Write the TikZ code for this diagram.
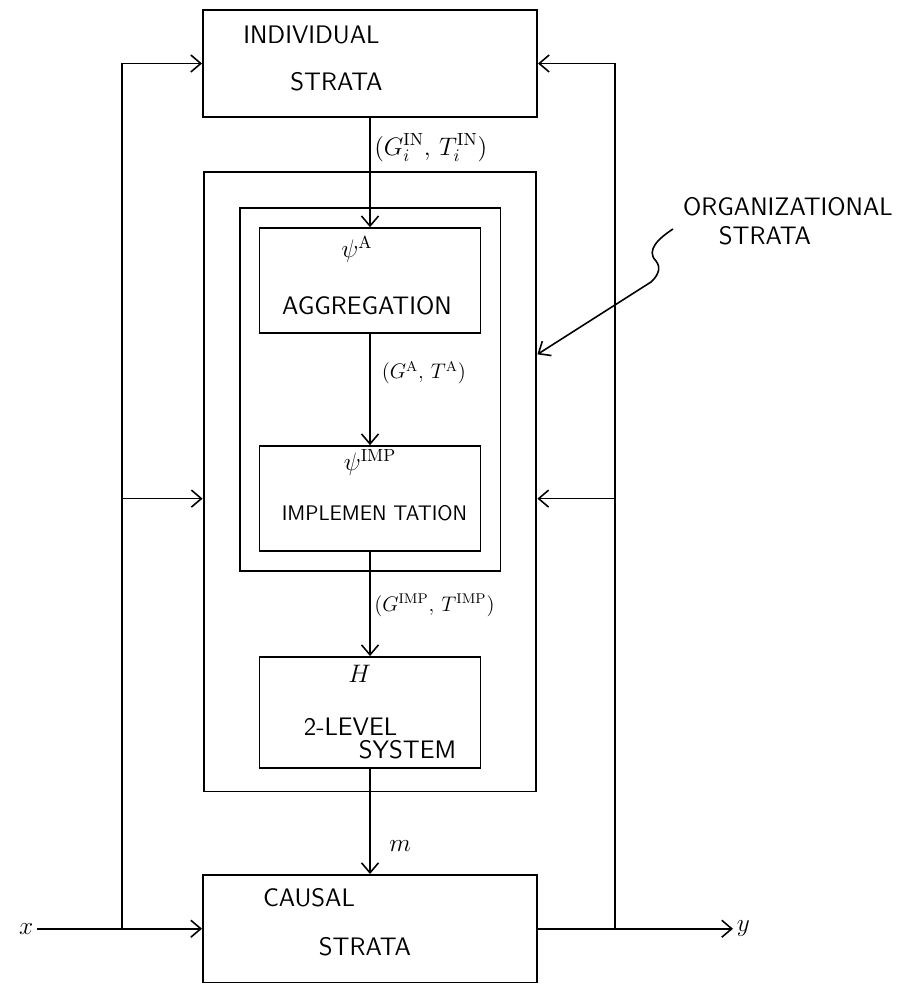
\documentclass[tikz,border=0pt]{standalone}
\usetikzlibrary{arrows.meta, positioning, fit}

\begin{document}
\begin{tikzpicture}[
    block/.style={rectangle, draw=black, line width=1.1pt, minimum width=4.42cm, minimum height=2.1cm},
    wideblock/.style={block, minimum width=6.68cm, minimum height=2.15cm},
    frame/.style={rectangle, draw=black, line width=1.1pt},
    txt/.style={font=\sffamily\Large, inner sep=1pt},
    lbl/.style={font=\large, inner sep=2pt},
    arrow/.style={-{Straight Barb[length=2mm, width=3.4mm]}, line width=0.9pt}
]
\useasboundingbox (-7.4,0) rectangle (10.98,-19.7);

\node[wideblock] (indiv) at (0,-1.27) {};
\node[block, below=2.18cm of indiv] (aggr) {};
\node[block, below=2.22cm of aggr] (impl) {};
\node[block, below=2.08cm of impl, minimum height=2.22cm] (hsys) {};
\node[wideblock, below=2.1cm of hsys] (causal) {};

\coordinate (hsysfoot) at ([yshift=0.25cm]hsys.south);
\node[frame, fit=(aggr)(impl), inner sep=0.38cm] (inner) {};
\node[frame, fit=(inner)(hsysfoot), inner sep=0.7cm] (outer) {};

\node[txt] (indivtop) at ([shift={(-1.17,0.57)}]indiv.center) {INDIVIDUAL};
\node[txt] (indivbot) at ([shift={(-0.67,-0.37)}]indiv.center) {STRATA};
\node[lbl, font=\Large] (aggrsym) at ([shift={(-0.26,0.62)}]aggr.center) {$\psi^{\mathrm{A}}$};
\node[txt] (aggrname) at ([shift={(-0.06,-0.5)}]aggr.center) {AGGREGATION};
\node[lbl, font=\Large] (implsym) at ([shift={(0,0.72)}]impl.center) {$\psi^{\mathrm{IMP}}$};
\node[txt, font=\sffamily\large] (implname) at ([shift={(0.09,-0.3)}]impl.center) {IMPLEMEN TATION};
\node[lbl, font=\Large] (hsyssym) at ([shift={(-0.21,0.78)}]hsys.center) {$H$};
\node[txt] (hsystop) at ([shift={(-0.39,-0.28)}]hsys.center) {2-LEVEL};
\node[txt] (hsysbot) at ([shift={(0.75,-0.75)}]hsys.center) {SYSTEM};
\node[txt] (causaltop) at ([shift={(-1.22,0.62)}]causal.center) {CAUSAL};
\node[txt] (causalbot) at ([shift={(-0.1,-0.36)}]causal.center) {STRATA};

\node[txt] (orgtop) at (8.36,-4.14) {ORGANIZATIONAL};
\node[txt] (orgbot) at (7.9,-4.72) {STRATA};
\coordinate (orgtail) at (6.06,-4.58);

\node[lbl, font=\Large, left=3.3cm of causal] (xin) {$x$};
\node[lbl, font=\Large, right=3.9cm of causal] (yout) {$y$};
\coordinate (lbus) at (-4.96,0);
\coordinate (rbus) at (4.9,0);

\draw[arrow] (indiv) -- node[lbl, font=\Large, right, pos=0.27] (lblin) {$(G_i^{\mathrm{IN}},\,T_i^{\mathrm{IN}})$} (aggr);
\draw[arrow] (aggr) -- node[lbl, right, pos=0.35, xshift=0.15cm] (lbla) {$(G^{\mathrm{A}},\,T^{\mathrm{A}})$} (impl);
\draw[arrow] (impl) -- node[lbl, right, pos=0.51] (lblimp) {$(G^{\mathrm{IMP}},\,T^{\mathrm{IMP}})$} (hsys);
\draw[arrow] (hsys) -- node[lbl, font=\Large, right, pos=0.73, xshift=0.3cm] (lblm) {$m$} (causal);

\draw[arrow] (xin) -- (causal);
\draw[arrow] (causal) -- (yout);
\draw[arrow] (causal.west -| lbus) |- (indiv.west);
\draw[arrow] (lbus |- impl) -- (outer.west |- impl);
\draw[arrow] (causal.east -| rbus) |- (indiv.east);
\draw[arrow] (rbus |- impl) -- (outer.east |- impl);

\draw[arrow] (orgtail) .. controls (5.8,-4.75) and (5.5,-5.0) .. (5.72,-5.22)
    .. controls (5.85,-5.38) and (5.72,-5.55) .. (5.62,-5.64) -- ([yshift=2.55cm]outer.east);

\end{tikzpicture}
\end{document}
